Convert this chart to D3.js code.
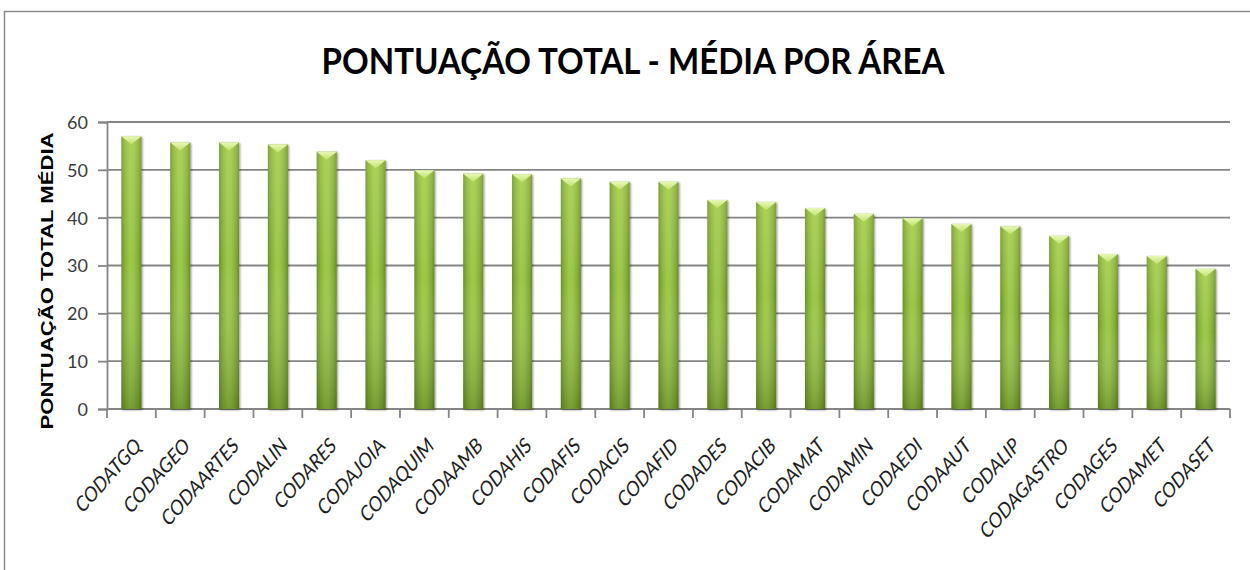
<!DOCTYPE html>
<html>
<head>
<meta charset="utf-8">
<script src="https://cdn.jsdelivr.net/npm/d3@7"></script>
<style>
  html, body { margin: 0; padding: 0; background: #fff; }
  svg { display: block; }
</style>
</head>
<body>
<svg id="chart" width="1250" height="570"></svg>
<script>
const categories = ["CODATGQ","CODAGEO","CODAARTES","CODALIN","CODARES","CODAJOIA","CODAQUIM","CODAAMB","CODAHIS","CODAFIS","CODACIS","CODAFID","CODADES","CODACIB","CODAMAT","CODAMIN","CODAEDI","CODAAUT","CODALIP","CODAGASTRO","CODAGES","CODAMET","CODASET"];
const values = [57.0,55.7,55.7,55.3,53.8,52.0,49.9,49.2,49.1,48.2,47.5,47.5,43.7,43.3,42.0,40.8,39.9,38.7,38.2,36.2,32.4,32.0,29.3];
const yTicks = [0,10,20,30,40,50,60];
const title = "PONTUAÇÃO TOTAL - MÉDIA POR ÁREA";
const yLabel = "PONTUAÇÃO TOTAL MÉDIA";

(function () {
const svg = d3.select("#chart");
const pL = 107, pR = 1230, pT = 122, pB = 409;

// chart border
svg.append("rect").attr("x", 4.5).attr("y", 11.5).attr("width", 1260).attr("height", 600)
  .attr("fill", "none").attr("stroke", "#8a8a8a").attr("stroke-width", 1.5);

const defs = svg.append("defs");
const hg = defs.append("linearGradient").attr("id", "barH").attr("x1", 0).attr("x2", 1).attr("y1", 0).attr("y2", 0);
[[0,"#6a9128"],[0.18,"#86b237"],[0.42,"#9dc84a"],[0.6,"#9ac548"],[0.85,"#82ab35"],[1,"#658a26"]]
  .forEach(s => hg.append("stop").attr("offset", s[0]).attr("stop-color", s[1]));
const vg = defs.append("linearGradient").attr("id", "barV").attr("x1", 0).attr("x2", 0).attr("y1", 0).attr("y2", 1);
[[0,"#f4ff9a",0.18],[0.45,"#ffffff",0],[1,"#1e3a00",0.3]]
  .forEach(s => vg.append("stop").attr("offset", s[0]).attr("stop-color", s[1]).attr("stop-opacity", s[2]));
const tg = defs.append("linearGradient").attr("id", "barTop").attr("x1", 0).attr("x2", 0).attr("y1", 0).attr("y2", 1);
[[0,"#e8f8b6"],[1,"#c0e270"]].forEach(s => tg.append("stop").attr("offset", s[0]).attr("stop-color", s[1]));
const sh = defs.append("filter").attr("id", "shadow").attr("x", "-30%").attr("y", "-10%").attr("width", "160%").attr("height", "120%");
sh.append("feGaussianBlur").attr("in", "SourceAlpha").attr("stdDeviation", 1.2).attr("result", "b");
sh.append("feOffset").attr("in", "b").attr("dx", 0.5).attr("dy", 0.5).attr("result", "o");
sh.append("feComponentTransfer").attr("in", "o").attr("result", "o2")
  .append("feFuncA").attr("type", "linear").attr("slope", 0.45);
const mg = sh.append("feMerge");
mg.append("feMergeNode").attr("in", "o2");
mg.append("feMergeNode").attr("in", "SourceGraphic");

const x = d3.scaleBand().domain(categories).range([pL, pR]).paddingInner(0.59).paddingOuter(0.295);
const y = d3.scaleLinear().domain([0, 60]).range([pB, pT]);

// gridlines
svg.append("g").selectAll("line").data(yTicks).join("line")
  .attr("x1", pL).attr("x2", pR)
  .attr("y1", d => y(d)).attr("y2", d => y(d))
  .attr("stroke", "#858585").attr("stroke-width", 1.8);

// y axis
const yAxis = svg.append("g").attr("transform", `translate(${pL},0)`)
  .call(d3.axisLeft(y).tickValues(yTicks).tickSize(9).tickPadding(10));
yAxis.select(".domain").attr("stroke", "#858585").attr("stroke-width", 1.8);
yAxis.selectAll(".tick line").attr("stroke", "#858585").attr("stroke-width", 1.8);
yAxis.selectAll(".tick text").attr("font-family", "Lato, 'Open Sans', sans-serif").attr("font-size", 18)
  .attr("fill", "#3a3a3a").attr("dy", "0.36em");

// x axis line & ticks at category boundaries
svg.append("line").attr("x1", pL).attr("x2", pR).attr("y1", pB).attr("y2", pB)
  .attr("stroke", "#858585").attr("stroke-width", 1.8);
const step = x.step();
svg.append("g").selectAll("line").data(d3.range(categories.length + 1)).join("line")
  .attr("x1", i => pL + i * step).attr("x2", i => pL + i * step)
  .attr("y1", pB).attr("y2", pB + 9)
  .attr("stroke", "#858585").attr("stroke-width", 1.8);

// bars
const bars = svg.append("g").selectAll("g").data(categories).join("g").attr("filter", "url(#shadow)");
bars.append("rect")
  .attr("x", d => x(d)).attr("width", x.bandwidth())
  .attr("y", (d, i) => y(values[i])).attr("height", (d, i) => y(0) - y(values[i]))
  .attr("fill", "url(#barH)");
bars.append("rect")
  .attr("x", d => x(d)).attr("width", x.bandwidth())
  .attr("y", (d, i) => y(values[i])).attr("height", (d, i) => y(0) - y(values[i]))
  .attr("fill", "url(#barV)");
bars.append("path")
  .attr("d", (d, i) => {
    const x0 = x(d), w = x.bandwidth(), yt = y(values[i]);
    return `M${x0},${yt}L${x0 + w},${yt}L${x0 + w / 2},${yt + 8}Z`;
  })
  .attr("fill", "url(#barTop)");

// x labels
svg.append("g").selectAll("text").data(categories).join("text")
  .attr("transform", d => `translate(${x(d) + x.bandwidth() / 2 + 11},${pB + 38}) scale(1,1.12) rotate(-45)`)
  .attr("text-anchor", "end")
  .attr("font-family", "Lato, 'Open Sans', sans-serif").attr("font-style", "italic")
  .attr("font-size", 18.5).attr("fill", "#1e1e1e")
  .text(d => d);

// title
svg.append("text").attr("x", 633).attr("y", 74).attr("text-anchor", "middle")
  .attr("font-family", "Lato, 'Open Sans', sans-serif").attr("font-weight", "bold")
  .attr("font-size", 36).attr("fill", "#000")
  .attr("textLength", 623).attr("lengthAdjust", "spacingAndGlyphs")
  .text(title);

// y label
svg.append("text").attr("transform", "translate(53,281) rotate(-90)").attr("text-anchor", "middle")
  .attr("font-family", "'Liberation Sans', Arial, sans-serif").attr("font-weight", "bold")
  .attr("font-size", 16.5).attr("fill", "#000")
  .attr("textLength", 297).attr("lengthAdjust", "spacingAndGlyphs")
  .text(yLabel);
})();
</script>
</body>
</html>
